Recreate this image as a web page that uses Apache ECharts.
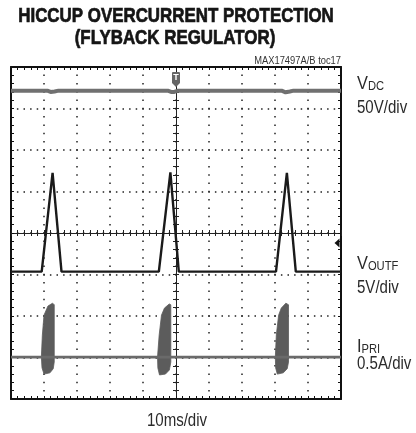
<!DOCTYPE html>
<html>
<head>
<meta charset="utf-8">
<script src="https://cdn.jsdelivr.net/npm/echarts@6/dist/echarts.min.js"></script>
<style>
  html, body { margin: 0; padding: 0; background: #fff; }
  #scope { width: 416px; height: 433px; }
</style>
</head>
<body>
<div id="scope"></div>
<script>
// time in ms from the trigger, level in screen divisions (8 div tall)
const timeRange = [-50, 50];
const divRange = [-4, 4];

const vdcTrace = [
  [-50, 3.43], [-39, 3.43], [-38, 3.40], [-36.8, 3.41], [-35.6, 3.43],
  [-2.5, 3.43], [-1.5, 3.40], [-0.5, 3.40], [0.6, 3.43],
  [32, 3.43], [33.2, 3.39], [34.5, 3.41], [35.6, 3.43], [50, 3.43]
];

const voutfTrace = [
  [-50, -0.93], [-40.7, -0.93], [-37.4, 1.45], [-34.7, -0.93],
  [-5.2, -0.93], [-1.7, 1.46], [0.85, -0.93],
  [30.3, -0.93], [33.6, 1.45], [36.3, -0.93], [50, -0.93]
];

const ipriBaseline = [[-50, -2.99], [50, -2.99]];

const ipriBurst1 = [
  [-40.8, -2.99], [-40.5, -2.46], [-40.0, -1.98], [-38.8, -1.76], [-37.4, -1.69],
  [-36.9, -1.73], [-36.9, -3.11], [-37.2, -3.27], [-38.2, -3.37], [-40.0, -3.40], [-40.6, -3.25]
];
const ipriBurst2 = [
  [-5.6, -2.99], [-5.1, -2.46], [-4.4, -1.98], [-3.5, -1.81], [-2.05, -1.71],
  [-1.57, -1.73], [-1.57, -3.11], [-2.0, -3.30], [-3.2, -3.40], [-5.0, -3.42], [-5.5, -3.25]
];
const ipriBurst3 = [
  [30.1, -2.99], [30.4, -2.46], [31.1, -1.98], [31.9, -1.81], [33.3, -1.69],
  [34.1, -1.73], [34.1, -3.11], [33.7, -3.27], [32.5, -3.37], [30.7, -3.40], [30.2, -3.25]
];
const ipriBursts = [ipriBurst1, ipriBurst2, ipriBurst3];

const triggerMark = [0, 3.70];
const groundMark = [50, -0.24];

const sans = '"Liberation Sans", Arial, sans-serif';
const ink = '#2a2a2a';

let chart = echarts.init(document.getElementById('scope'), null, { renderer: 'canvas' });

// frame axis (box edge) with inward ticks every 1/5 div
function frameAxis(pos, range, step, split, dash) {
  return {
    type: 'value',
    position: pos,
    min: range[0],
    max: range[1],
    interval: step,
    axisLine: { show: true, onZero: false, lineStyle: { color: '#111', width: 2 } },
    axisTick: { show: true, inside: true, length: 3, lineStyle: { color: '#111', width: 1 } },
    minorTick: { show: true, splitNumber: 5, length: 3, lineStyle: { color: '#111', width: 1 } },
    axisLabel: { show: false },
    splitLine: { show: split, lineStyle: { color: '#222', width: 1.5, type: dash, dashOffset: 0.7 } }
  };
}

// centre graticule line with ticks on both sides
function centreAxis(pos, range, step, inside) {
  return {
    type: 'value',
    position: pos,
    min: range[0],
    max: range[1],
    interval: step,
    axisLine: { show: true, onZero: true, onZeroAxisIndex: 0, lineStyle: { color: '#222', width: 1 } },
    axisTick: { show: true, inside: inside, length: 3, lineStyle: { color: '#222', width: 1 } },
    minorTick: { show: true, splitNumber: 5, length: 3, lineStyle: { color: '#222', width: 1 } },
    axisLabel: { show: false },
    splitLine: { show: false }
  };
}

// narrow text made from Liberation Sans squeezed horizontally
function label(x, y, text, size, squeeze, extra) {
  return {
    type: 'text', x: x, y: y, scaleX: squeeze,
    style: Object.assign({ text: text, font: size + 'px ' + sans, fill: ink }, extra || {})
  };
}

function chanName(x, y, big, small) {
  return {
    type: 'text', x: x, y: y, scaleX: 0.86,
    style: {
      text: '{v|' + big + '}{s|' + small + '}',
      rich: {
        v: { fontSize: 19, fontFamily: sans, fill: ink, verticalAlign: 'bottom', lineHeight: 20 },
        s: { fontSize: 13, fontFamily: sans, fill: ink, verticalAlign: 'bottom', lineHeight: 17 }
      }
    }
  };
}

let option = {
  animation: false,
  backgroundColor: '#fff',
  grid: { left: 11, top: 67, width: 330, height: 332, containLabel: false },
  xAxis: [
    frameAxis('bottom', timeRange, 10, true, [1.5, 6.8]),
    frameAxis('top', timeRange, 10, false, 'solid'),
    centreAxis('bottom', timeRange, 10, true),
    centreAxis('bottom', timeRange, 10, false)
  ],
  yAxis: [
    frameAxis('left', divRange, 1, true, [1.5, 5.1]),
    frameAxis('right', divRange, 1, false, 'solid'),
    centreAxis('left', divRange, 1, true),
    centreAxis('left', divRange, 1, false)
  ],
  graphic: [
    label(176, 16, 'HICCUP OVERCURRENT PROTECTION', 20, 0.845,
      { font: 'bold 20px ' + sans, fill: '#151515', stroke: '#151515', lineWidth: 0.7, align: 'center', verticalAlign: 'middle' }),
    label(175, 38, '(FLYBACK REGULATOR)', 20, 0.845,
      { font: 'bold 20px ' + sans, fill: '#151515', stroke: '#151515', lineWidth: 0.7, align: 'center', verticalAlign: 'middle' }),
    label(341, 61, 'MAX17497A/B toc17', 11, 0.85, { align: 'right', verticalAlign: 'middle', fill: '#333' }),
    chanName(357, 73, 'V', 'DC'),
    label(357, 99, '50V/div', 17.5, 0.86),
    chanName(357, 253, 'V', 'OUTF'),
    label(357, 279, '5V/div', 17.5, 0.86),
    chanName(357, 336, 'I', 'PRI'),
    label(357, 355, '0.5A/div', 17.5, 0.86),
    label(177, 421, '10ms/div', 17.5, 0.86, { align: 'center', verticalAlign: 'middle' })
  ],
  series: [
    {
      name: 'VDC',
      type: 'line',
      data: vdcTrace,
      symbol: 'none',
      lineStyle: { color: '#707070', width: 4 },
      z: 3,
      markPoint: {
        symbol: 'path://M1,0 L7,0 Q8,0 8,1 L8,11 L4,15 L0,11 L0,1 Q0,0 1,0 Z',
        symbolSize: [8, 15],
        itemStyle: { color: '#666' },
        label: { show: true, formatter: 'T', color: '#fff', fontSize: 9, fontWeight: 'bold', offset: [0, -2] },
        data: [{ coord: triggerMark }]
      }
    },
    {
      name: 'VOUTF',
      type: 'line',
      data: voutfTrace,
      symbol: 'none',
      lineStyle: { color: '#1a1a1a', width: 2.4 },
      z: 4,
      markPoint: {
        symbol: 'triangle',
        symbolSize: [9, 5],
        symbolRotate: 90,
        symbolOffset: [-4, 0],
        itemStyle: { color: '#111' },
        label: { show: false },
        data: [{ coord: groundMark }]
      }
    },
    {
      name: 'IPRI',
      type: 'line',
      data: ipriBaseline,
      symbol: 'none',
      lineStyle: { color: '#6a6a6a', width: 2.8 },
      z: 3
    },
    {
      name: 'IPRI burst',
      type: 'custom',
      coordinateSystem: 'cartesian2d',
      data: ipriBursts.map(function (b, i) { return [b[0][0], b[0][1], i]; }),
      renderItem: function (params, api) {
        let pts = ipriBursts[api.value(2)].map(function (p) { return api.coord(p); });
        return {
          type: 'polygon',
          shape: { points: pts },
          style: { fill: '#5c5c5c', stroke: '#5c5c5c', lineWidth: 0.8 }
        };
      },
      z: 3
    }
  ]
};

chart.setOption(option);
window.addEventListener('resize', function () { chart.resize(); });
</script>
</body>
</html>
